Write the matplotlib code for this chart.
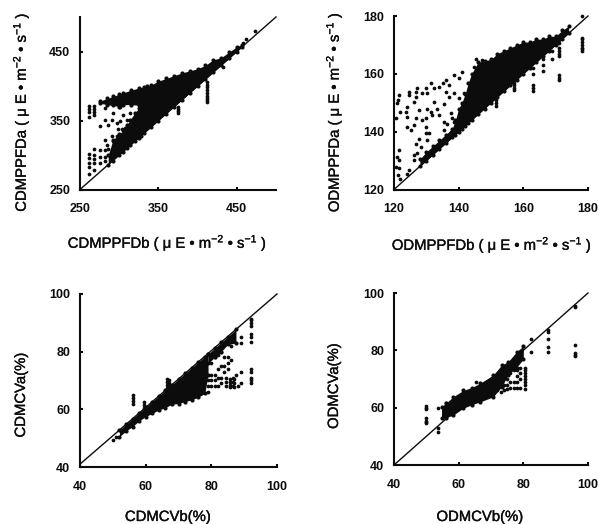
import matplotlib

matplotlib.use("Agg")
import matplotlib.patheffects as pe
import matplotlib.pyplot as plt

plt.rcParams["font.family"] = ["Liberation Sans", "DejaVu Sans"]
plt.rcParams["mathtext.fontset"] = "custom"
plt.rcParams["mathtext.rm"] = "Liberation Sans"
plt.rcParams["mathtext.it"] = "Liberation Sans"
plt.rcParams["mathtext.bf"] = "Liberation Sans:bold"

W, H = 599, 524
INK = "#0c0c0c"

# CDMPPFD: dense cloud outline, then loose points
P1_X = [286, 292, 300, 305, 310, 314, 320, 325, 328, 332, 340, 350, 360, 370, 380, 390, 400, 410, 420, 430, 440, 450, 456]
P1_LOW = [286, 292, 300, 305, 310, 314, 320, 325, 328, 332, 340, 350, 360, 370, 380, 390, 400, 410, 420, 430, 440, 450, 456]
P1_HIGH = [300, 322, 330, 336, 344, 351, 361, 368, 388, 398, 401, 407, 411, 415, 419, 422, 425, 430, 438, 441, 449, 457, 460]
P1_UP_X = [275, 285, 292, 300, 305, 315, 325, 335]
P1_UP_LOW = [375, 373, 372, 370, 373, 373, 372, 375]
P1_UP_HIGH = [378, 382, 385, 388, 390, 394, 397, 400]
P1_DOT_X = [262, 262, 262, 262, 262, 262, 262, 262, 262, 268, 268, 268, 268, 268, 268, 268, 268, 268,
            275.5, 282, 282, 290.4, 286, 296.8, 301, 305, 292.6, 288, 301, 314, 309.6, 299, 303, 282, 284,
            290.4, 286, 292.6, 297, 307.5, 275, 275, 275, 282, 282, 282,
            375, 375, 375, 375, 412, 412, 412, 412, 412, 412, 412, 412, 412, 432, 458, 462, 473]
P1_DOT_Y = [371, 367, 363, 355, 301, 295, 288, 283, 272, 371, 367, 363, 358, 308, 300, 294, 288, 278,
            341.5, 368, 351, 351, 344, 346, 349, 358, 361, 375, 370, 361, 351, 337, 337, 322, 315,
            327, 308, 320, 327, 339, 307, 297, 288, 307, 297, 291,
            370, 367, 364, 361, 406, 402, 398, 394, 390, 386, 382, 379, 377, 427, 462, 468, 480]

# ODMPPFD
P2_X = [128, 130, 132, 134, 136, 138, 139, 140, 141, 142, 143, 144, 146, 148, 150, 152, 154, 156, 158, 160, 162, 164, 166, 168, 170, 172, 174]
P2_LOW = [128, 130, 132, 134, 136, 138, 139, 140, 141, 142, 143, 144, 146, 148, 150, 152, 154, 156, 158, 160, 162, 164, 166, 168, 170, 172, 174]
P2_HIGH = [130.5, 133, 135, 137, 139, 141, 144, 148, 150, 153, 157, 160, 164, 164.5, 165, 167, 168, 169, 170, 171, 171, 172, 172, 173, 173, 175, 176.5]
P2_COL_X = [145.3, 147.3, 144.7, 141, 138.6, 136, 135, 131.3, 129.8, 127.2, 124.6, 124.6, 126.7, 126.7, 128.8, 130.3,
            132.4, 133.9, 137, 140, 121.5, 121.2, 121, 121.9, 120.5, 124.1, 123.6, 124.1, 124.1, 125.2,
            126.2, 127.7, 126.7, 126.2, 128.8, 129.8, 130.3, 131.3, 132.4, 133.4, 133.9, 131.9,
            129.8, 130.8, 129.8, 127.7, 126.7, 128.2, 130.3, 126.2, 127.2, 126.2, 124.6, 124.1,
            121.5, 121, 121.5, 121.5, 120.5, 121.2, 122, 135.5, 137, 136, 138.6, 141.7, 140,
            137.5, 138, 138.6, 135.5, 136.5, 135.5, 137.5,
            151.5, 151.5, 151.5, 157, 157, 157, 157, 163, 163, 163, 163, 163, 166, 166, 166, 169, 169,
            171, 171, 171, 171, 171, 171, 171, 171, 178, 178, 178, 178, 178, 178, 178, 178]
P2_COL_Y = [165, 164.7, 162.4, 160.7, 159.6, 157.8, 156.7, 156.7, 155, 155, 153.8, 152.6, 153.8, 152, 153.2, 153.2,
            155, 155.5, 156, 158.4, 152.6, 150.9, 149.8, 146.9, 144.6, 148.6, 146.9, 145.1, 141.7, 140.5,
            150.3, 147.4, 144.6, 142.3, 144, 144.6, 148, 146.9, 150.3, 148, 145.7, 145.7,
            141.7, 139.4, 139.4, 137.6, 135.9, 134.8, 137, 131.9, 132.5, 130.2, 126.7, 125.5,
            133.6, 131.3, 130.2, 127.3, 127.8, 125, 123.8, 149.7, 152, 153.8, 153.2, 153.2, 151.5,
            146.3, 144.6, 143.4, 143.4, 142.8, 140.5, 140,
            151, 150, 149, 157, 156, 155, 154.5, 162, 160, 156, 155, 154, 165, 163, 161, 168, 165,
            170.5, 169, 168, 167, 166, 159.5, 158.5, 158, 172.5, 172, 171, 170, 169, 168.5, 168, 180]

# CDMCV
P3_X = [52, 54, 56, 58, 60, 62, 64, 66, 68, 70, 72, 74, 76, 78, 79]
P3_LOW = [50.5, 52.5, 54, 56, 57.5, 58.6, 59.8, 60.6, 61.8, 62, 62.7, 63.3, 64.2, 65.5, 72]
P3_HIGH = [52.8, 54.8, 56.8, 58.8, 60.7, 62.7, 64.6, 66.6, 68.5, 70.5, 72.5, 74.4, 76.4, 78.3, 79.2]
P3_UP_X = [79, 81, 83, 85, 87.5]
P3_UP_LOW = [76, 78, 80, 82.5, 83]
P3_UP_HIGH = [79.2, 81.2, 83.2, 85.2, 87.7]
P3_DOT_X = [50, 51, 56, 56, 56, 56, 59.5, 59.5, 59.5, 66.5, 66.5, 66.5, 66.5, 67, 67, 67,
            79, 79, 79, 80, 80, 80, 80, 81, 81, 81, 81, 82, 82, 82, 82, 83, 83, 83, 83, 84, 84, 84,
            84.6, 84.6, 84.6, 85, 85, 85, 85.6, 85.6, 85.6, 85.6, 86, 86, 86.5, 86.5, 86.5, 87, 87, 87,
            87.5, 88, 89, 89, 89, 89, 92, 92, 92, 92, 92, 92, 92, 92, 92, 92, 92, 92]
P3_DOT_Y = [49.5, 50.5, 65, 64, 63, 62, 62.5, 61.5, 60.5, 70.5, 69.5, 68.5, 67.5, 70, 69, 68,
            70, 68, 66, 76, 72, 70, 68, 78, 72, 70, 68, 79, 74, 71, 68, 80, 75, 71, 69, 78, 75, 73,
            71, 69.5, 68, 78, 76, 74, 70.5, 69.5, 68.5, 67.8, 82, 77, 71, 69.5, 68, 70.5, 69, 67.8,
            72, 68, 85, 83, 73, 69, 91.5, 91, 90, 89, 86, 85, 83.5, 74, 73, 71, 70, 69]

# ODMCV
P4_X = [54.7, 56, 58.3, 61.4, 64, 66.6, 70.7, 73.3, 75.3, 77.9, 80]
P4_LOW = [56.3, 56.5, 57.4, 59.8, 61, 62, 63.8, 67.3, 71.5, 74, 77]
P4_HIGH = [60.3, 61.5, 63.8, 66, 67, 68.5, 71.4, 74.9, 76, 79.5, 81.5]
P4_DOT_X = [50, 50, 50, 50, 50, 50, 50, 53.5, 53.5, 53.5, 56, 65.5, 72, 73, 74, 74, 75, 75, 75, 76, 76, 76, 77, 77, 77,
            78, 78, 78, 78, 79, 79, 79, 79, 80.5, 80.5, 80.5, 80.5, 80.5, 80.5, 80.5, 80.5,
            82.5, 82.5, 87.5, 87.5, 87.5, 87.5, 87.5, 96, 96, 96, 96, 96, 96]
P4_DOT_Y = [60.5, 60, 59.5, 56.5, 55.5, 55, 54.5, 60, 53, 51.5, 61.5, 69, 66, 65.5, 68, 66, 70, 68, 66.5, 72, 69, 67, 73, 69, 66.7,
            73, 71, 69, 66.7, 74, 72, 70, 66.7, 74, 73, 72, 71, 70, 69, 68, 66.5,
            84, 79.5, 87, 86.5, 84, 81, 79.5, 95.5, 95, 82, 79, 78.5, 78]

LABEL_P1X = r"CDMPPFDb ( $\mu$ E • m$^{-2}$ • s$^{-1}$ )"
LABEL_P1Y = r"CDMPPFDa ( $\mu$ E • m$^{-2}$ • s$^{-1}$ )"
LABEL_P2X = r"ODMPPFDb ( $\mu$ E • m$^{-2}$ • s$^{-1}$ )"
LABEL_P2Y = r"ODMPPFDa ( $\mu$ E • m$^{-2}$ • s$^{-1}$ )"


def panel(fig, box, lim, xticks, yticks, line_start, dot_x, dot_y, bands):
    left, top, right, bottom = box
    ax = fig.add_axes([left / W, 1 - bottom / H, (right - left) / W, (bottom - top) / H])
    ax.set_xlim(lim)
    ax.set_ylim(lim)
    ax.plot([lim[0], lim[1]], [line_start, lim[1]], color=INK, lw=1.0, clip_on=False)
    for bx, lo, hi in bands:
        ax.fill_between(bx, lo, hi, color=INK, lw=0)
        ax.plot(bx, hi, "o", color=INK, ms=3, mew=0)
        ax.plot(bx, lo, "o", color=INK, ms=3, mew=0)
    ax.plot(dot_x, dot_y, "o", color=INK, ms=2.7, mew=0, clip_on=False)
    for side in ("top", "right"):
        ax.spines[side].set_visible(False)
    for side in ("left", "bottom"):
        ax.spines[side].set_linewidth(1.5)
        ax.spines[side].set_color(INK)
    ax.set_xticks(xticks)
    ax.set_yticks(yticks)
    ax.tick_params(axis="x", direction="in", length=2.5, width=1.5, color=INK, pad=10, labelsize=9)
    ax.tick_params(axis="y", direction="in", length=2.5, width=1.5, color=INK, pad=7, labelsize=9)
    for t in ax.get_xticklabels() + ax.get_yticklabels():
        t.set_fontweight("bold")
        t.set_color(INK)
    return ax


def label(fig, x, y, text, rotation=0):
    t = fig.text(x / W, 1 - y / H, text, ha="center", va="center", rotation=rotation,
                 fontsize=10.7, color=INK)
    t.set_path_effects([pe.withStroke(linewidth=0.25, foreground=INK)])


fig = plt.figure(figsize=(W / 100, H / 100), dpi=100, facecolor="white")

panel(fig, (80, 17, 276, 189.5), (250, 500), [250, 350, 450], [250, 350, 450], 250,
      P1_DOT_X, P1_DOT_Y, [(P1_X, P1_LOW, P1_HIGH), (P1_UP_X, P1_UP_LOW, P1_UP_HIGH)])
panel(fig, (394, 16, 588, 189.5), (120, 180), [120, 140, 160, 180], [120, 140, 160, 180], 120,
      P2_COL_X, P2_COL_Y, [(P2_X, P2_LOW, P2_HIGH)])
panel(fig, (80, 294, 277, 467), (40, 100), [40, 60, 80, 100], [40, 60, 80, 100], 41,
      P3_DOT_X, P3_DOT_Y, [(P3_X, P3_LOW, P3_HIGH), (P3_UP_X, P3_UP_LOW, P3_UP_HIGH)])
panel(fig, (394, 293, 588, 465), (40, 100), [40, 60, 80, 100], [40, 60, 80, 100], 40,
      P4_DOT_X, P4_DOT_Y, [(P4_X, P4_LOW, P4_HIGH)])

label(fig, 167.5, 243, LABEL_P1X)
label(fig, 21, 112, LABEL_P1Y, 90)
label(fig, 492, 245, LABEL_P2X)
label(fig, 334, 112, LABEL_P2Y, 90)
label(fig, 168, 517, "CDMCVb(%)")
label(fig, 21, 395, "CDMCVa(%)", 90)
label(fig, 480, 517, "ODMCVb(%)")
label(fig, 334, 386, "ODMCVa(%)", 90)

fig.savefig("out.png", dpi=100, facecolor="white")
plt.close(fig)
